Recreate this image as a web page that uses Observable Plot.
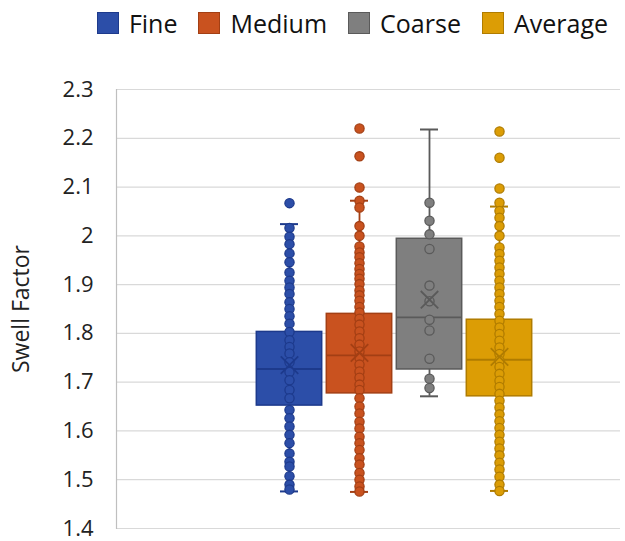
<!DOCTYPE html>
<html><head><meta charset="utf-8">
<script src="https://cdn.jsdelivr.net/npm/d3@7"></script>
<script src="https://cdn.jsdelivr.net/npm/@observablehq/plot@0.6"></script>
<style>
body{margin:0;background:#fff;font-family:"Open Sans",sans-serif;}
#legend{height:45px;display:flex;align-items:center;justify-content:flex-end;padding-right:17px;box-sizing:border-box;width:625px;font-size:25px;color:#111;}
.item{display:flex;align-items:center;margin-left:21px;}
.sw{width:22px;height:22px;margin-right:10px;box-sizing:border-box;border:1.5px solid;}
#chart g[aria-label="y-axis label"] text{font-size:23px;}
</style></head><body>
<div id="legend"></div><div id="chart"></div>
<script>
const series = ["Fine", "Medium", "Coarse", "Average"];
const fills = ["#2c4ea8", "#c9521f", "#7f7f7f", "#dc9d05"];
const strokes = ["#1d3a8c", "#a33f14", "#5a5a5a", "#b07c00"];
const yTicks = [1.4, 1.5, 1.6, 1.7, 1.8, 1.9, 2.0, 2.1, 2.2, 2.3];

// box statistics
const q1 = [1.652, 1.677, 1.726, 1.671];
const medians = [1.727, 1.755, 1.833, 1.746];
const q3 = [1.803, 1.840, 1.994, 1.828];
const means = [1.735, 1.760, 1.869, 1.752];
const whiskerLow = [1.476, 1.475, 1.671, 1.477];
const whiskerHigh = [2.024, 2.072, 2.218, 2.060];

// individual points
const finePoints = [2.067, 2.016, 1.998, 1.983, 1.964, 1.946, 1.925, 1.908, 1.894, 1.881, 1.864, 1.850, 1.835, 1.820, 1.803, 1.786, 1.772, 1.759, 1.741, 1.721, 1.704, 1.684, 1.667, 1.643, 1.626, 1.609, 1.592, 1.575, 1.554, 1.537, 1.527, 1.507, 1.490, 1.480];
const mediumPoints = [2.220, 2.163, 2.099, 2.072, 2.058, 2.020, 2.000, 1.978, 1.966, 1.956, 1.944, 1.932, 1.922, 1.912, 1.901, 1.888, 1.878, 1.867, 1.854, 1.843, 1.830, 1.818, 1.804, 1.790, 1.777, 1.763, 1.750, 1.736, 1.722, 1.709, 1.695, 1.684, 1.667, 1.650, 1.636, 1.619, 1.605, 1.588, 1.575, 1.561, 1.544, 1.531, 1.514, 1.500, 1.486, 1.476];
const coarsePoints = [2.068, 2.031, 2.003, 1.973, 1.898, 1.866, 1.828, 1.806, 1.748, 1.707, 1.688];
const averagePoints = [2.214, 2.160, 2.097, 2.068, 2.051, 2.037, 2.020, 2.000, 1.976, 1.963, 1.949, 1.935, 1.922, 1.908, 1.894, 1.881, 1.867, 1.854, 1.840, 1.826, 1.812, 1.799, 1.785, 1.771, 1.758, 1.744, 1.731, 1.717, 1.703, 1.690, 1.676, 1.662, 1.648, 1.634, 1.620, 1.606, 1.592, 1.578, 1.564, 1.550, 1.535, 1.521, 1.506, 1.490, 1.477];

const pointSets = [finePoints, mediumPoints, coarsePoints, averagePoints];
const fillOf = Object.fromEntries(series.map((s, i) => [s, fills[i]]));
const strokeOf = Object.fromEntries(series.map((s, i) => [s, strokes[i]]));

const rows = series.map((s, i) => ({series: s, q1: q1[i], median: medians[i], q3: q3[i], mean: means[i], lo: whiskerLow[i], hi: whiskerHigh[i]}));
const pts = series.flatMap((s, i) => pointSets[i].map(v => ({series: s, value: v})));

// legend
const legend = document.getElementById("legend");
series.forEach((s, i) => {
  const it = document.createElement("div"); it.className = "item";
  const sw = document.createElement("div"); sw.className = "sw";
  sw.style.background = fills[i]; sw.style.borderColor = strokes[i];
  const t = document.createElement("span"); t.textContent = s;
  it.appendChild(sw); it.appendChild(t); legend.appendChild(it);
});

const chart = Plot.plot({
  width: 625, height: 496,
  marginTop: 44, marginBottom: 13, marginLeft: 116, marginRight: 5,
  style: {fontFamily: "Open Sans", fontSize: "22px", color: "#222", background: "#fff"},
  x: {domain: series, range: [252.5, 535], padding: 0, axis: null},
  y: {domain: [1.4, 2.3]},
  color: {type: "identity"},
  marks: [
    Plot.ruleY(yTicks, {stroke: "#d9d9d9", strokeWidth: 1.2}),
    Plot.frame({anchor: "left", stroke: "#bfbfbf", strokeWidth: 1.2}),
    Plot.axisY({ticks: yTicks, tickSize: 0, tickPadding: 23, tickFormat: d => String(+d.toFixed(1)),
      label: "Swell Factor", labelAnchor: "center", labelArrow: "none", labelOffset: 104}),
    Plot.ruleX(rows, {x: "series", y1: "lo", y2: "hi", stroke: d => strokeOf[d.series], strokeWidth: 1.8}),
    Plot.tickY(rows, {x: "series", y: "lo", insetLeft: 26, insetRight: 26, stroke: d => strokeOf[d.series], strokeWidth: 2}),
    Plot.tickY(rows, {x: "series", y: "hi", insetLeft: 26, insetRight: 26, stroke: d => strokeOf[d.series], strokeWidth: 2}),
    Plot.barY(rows, {x: "series", y1: "q1", y2: "q3", insetLeft: 2.3, insetRight: 2.3, fill: d => fillOf[d.series], stroke: d => strokeOf[d.series], strokeWidth: 1.5}),
    Plot.tickY(rows, {x: "series", y: "median", insetLeft: 2.3, insetRight: 2.3, stroke: d => strokeOf[d.series], strokeWidth: 1.8}),
    Plot.dot(pts, {x: "series", y: "value", r: 4.6, fill: d => fillOf[d.series], stroke: d => strokeOf[d.series], strokeWidth: 1.3}),
    Plot.dot(rows, {x: "series", y: "mean", symbol: "times", r: 8, stroke: d => strokeOf[d.series], strokeWidth: 1.8})
  ]
});
document.getElementById("chart").appendChild(chart);
</script>
</body></html>
